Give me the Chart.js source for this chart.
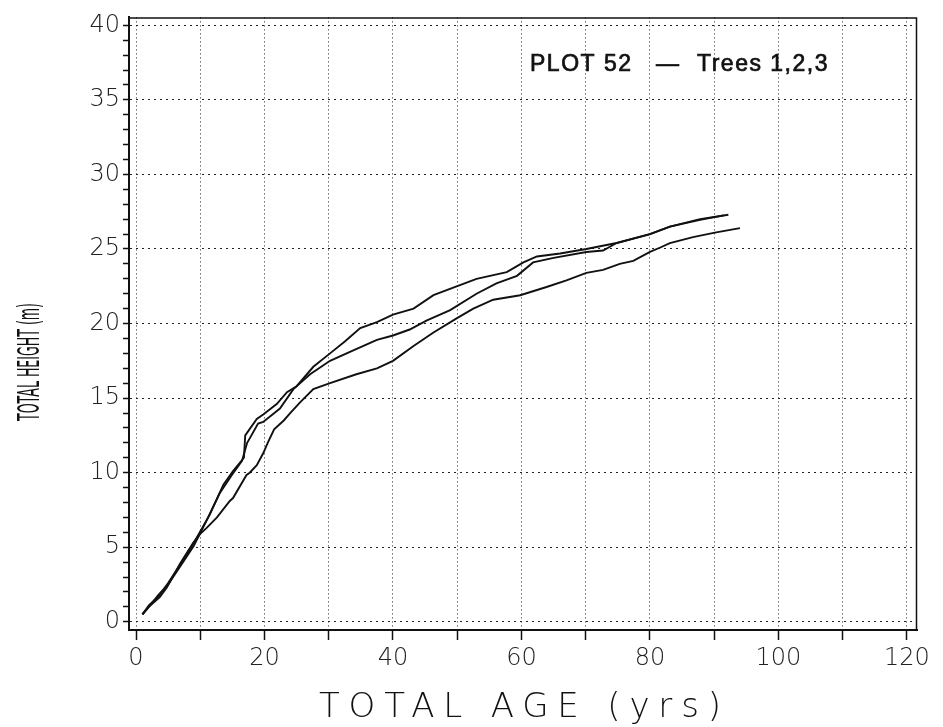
<!DOCTYPE html>
<html>
<head>
<meta charset="utf-8">
<title>PLOT 52 - Trees 1,2,3</title>
<script src="https://cdn.jsdelivr.net/npm/chart.js@4.4.1/dist/chart.umd.min.js"></script>
<style>
  html, body { margin: 0; padding: 0; background: #fff; }
  #wrap { width: 943px; height: 727px; }
</style>
</head>
<body>
<div id="wrap"><canvas id="heightChart" width="943" height="727"></canvas></div>
<script>
// Tree 1 (upper curve after ~27 yrs)
const tree1Age = [1, 2, 3.5, 5, 7, 9, 11.5, 13.6, 15.1, 16.8, 17.0, 18.8, 19.8, 21.9, 23.5, 25, 27.6, 30.2, 32.5, 34.9, 37.5, 40, 43.2, 46.3, 49.9, 53, 57.7, 60.3, 62.4, 66, 70.1, 74.8, 80, 83.1, 87.8, 92.2];
const tree1Height = [0.5, 1.1, 1.7, 2.6, 3.9, 5.3, 7.2, 9.2, 10.1, 11.0, 12.5, 13.6, 13.9, 14.6, 15.4, 15.8, 17.1, 18.0, 18.8, 19.7, 20.1, 20.6, 21.0, 21.9, 22.5, 23.0, 23.45, 24.1, 24.5, 24.7, 25.0, 25.4, 26.0, 26.5, 27.0, 27.3];

// Tree 2 (middle curve)
const tree2Age = [1, 2, 3.5, 5, 7, 9, 11, 13, 15, 16.5, 17.3, 17.7, 19.0, 19.8, 22.4, 24.5, 27.1, 30.2, 33.3, 37.5, 40, 42.6, 45.2, 48.9, 53, 56.1, 59.3, 61.8, 65, 70.1, 72.7, 74.8, 80, 83.1, 87.8, 91.5];
const tree2Height = [0.5, 1.0, 1.8, 2.5, 3.8, 5.1, 6.8, 8.6, 9.9, 10.8, 12.0, 12.3, 13.3, 13.4, 14.3, 15.6, 16.6, 17.5, 18.1, 18.9, 19.2, 19.6, 20.2, 20.9, 22.0, 22.7, 23.2, 24.1, 24.4, 24.8, 24.9, 25.4, 26.0, 26.5, 26.95, 27.25];

// Tree 3 (lowest curve)
const tree3Age = [1, 2, 3.7, 4.8, 6.85, 8.9, 10, 11, 12.6, 14.6, 15.1, 17.2, 17.7, 18.8, 19.8, 20.5, 21.5, 23, 24, 25.5, 27.6, 30.2, 34.3, 37.5, 40, 43.2, 46.3, 49.9, 52.5, 55.6, 59.8, 63.9, 67, 70.1, 72.7, 75.3, 77.4, 80, 81.6, 83.1, 86.7, 90.1, 94];
const tree3Height = [0.5, 1.0, 1.65, 2.3, 3.9, 5.3, 5.9, 6.3, 7.0, 8.1, 8.3, 9.85, 10.0, 10.5, 11.3, 12.0, 12.9, 13.5, 14.0, 14.7, 15.6, 16.0, 16.6, 17.0, 17.5, 18.5, 19.4, 20.35, 21.0, 21.6, 21.9, 22.45, 22.9, 23.4, 23.6, 24.0, 24.2, 24.8, 25.1, 25.4, 25.8, 26.1, 26.4];

// axis ticks
const ageTicks = [0, 10, 20, 30, 40, 50, 60, 70, 80, 90, 100, 110, 120];
const heightTicks = [0, 1, 2, 3, 4, 5, 6, 7, 8, 9, 10, 11, 12, 13, 14, 15, 16, 17, 18, 19, 20,
  21, 22, 23, 24, 25, 26, 27, 28, 29, 30, 31, 32, 33, 34, 35, 36, 37, 38, 39, 40];

const toPoints = (ages, heights) => ages.map((a, i) => ({ x: a, y: heights[i] }));

const lineStyle = {
  borderColor: "#111",
  borderWidth: 1.9,
  pointRadius: 0,
  tension: 0,
  fill: false,
};

const tickFont = { family: "DejaVu Sans", size: 24, weight: 200 };

// frame + free text (plot label, axis titles)
const decorPlugin = {
  id: "decor",
  afterDatasetsDraw(chart) {
    const { ctx, chartArea: a } = chart;
    ctx.save();
    ctx.strokeStyle = "#111";
    ctx.lineWidth = 1.5;
    ctx.beginPath();
    ctx.moveTo(a.left, a.top + 0.5);
    ctx.lineTo(a.right - 0.5, a.top + 0.5);
    ctx.lineTo(a.right - 0.5, a.bottom);
    ctx.stroke();

    // plot label
    ctx.fillStyle = "#111";
    ctx.strokeStyle = "#111";
    ctx.lineWidth = 0.7;
    ctx.textBaseline = "alphabetic";
    ctx.font = "23px 'Liberation Sans'";
    ctx.letterSpacing = "1.5px";
    ctx.textAlign = "left";
    [["PLOT 52", 530], ["—", 656], ["Trees 1,2,3", 697]].forEach(([t, x]) => {
      ctx.fillText(t, x, 71);
      ctx.strokeText(t, x, 71);
    });

    // x axis title, spread out
    ctx.font = "200 34px 'DejaVu Sans'";
    const xTitle = "TOTAL AGE (yrs)";
    ctx.letterSpacing = "0px";
    const w0 = ctx.measureText(xTitle).width;
    const spacing = Math.max(0, (402 - w0) / (xTitle.length - 1));
    ctx.letterSpacing = spacing + "px";
    ctx.textBaseline = "middle";
    ctx.fillText(xTitle, 319, 708);

    // y axis title, condensed
    ctx.letterSpacing = "0px";
    ctx.font = "30px 'DejaVu Sans'";
    const yTitle = "TOTAL HEIGHT (m)";
    const wy = ctx.measureText(yTitle).width;
    ctx.translate(31, 362);
    ctx.rotate(-Math.PI / 2);
    ctx.scale(118 / wy, 1);
    ctx.textAlign = "center";
    ctx.fillText(yTitle, 0, 0);
    ctx.restore();
  },
};

new Chart(document.getElementById("heightChart"), {
  type: "line",
  data: {
    datasets: [
      { label: "Tree 1", data: toPoints(tree1Age, tree1Height), ...lineStyle },
      { label: "Tree 2", data: toPoints(tree2Age, tree2Height), ...lineStyle },
      { label: "Tree 3", data: toPoints(tree3Age, tree3Height), ...lineStyle },
    ],
  },
  options: {
    responsive: false,
    animation: false,
    layout: { padding: { top: 11, right: 26, left: 0, bottom: 0 } },
    plugins: {
      legend: { display: false },
      title: { display: false },
      tooltip: { enabled: false },
    },
    scales: {
      x: {
        type: "linear",
        min: -1.09,
        max: 121.56,
        afterBuildTicks: (axis) => {
          axis.ticks = ageTicks.map((v) => ({ value: v }));
        },
        afterFit: (axis) => {
          axis.height = 97;
        },
        ticks: {
          autoSkip: false,
          maxRotation: 0,
          padding: 4,
          color: "#222",
          font: tickFont,
          callback: (v) => (v % 20 === 0 ? v : ""),
        },
        grid: {
          color: "#222",
          lineWidth: 1,
          tickLength: 10,
          tickColor: "#111",
          tickWidth: 1.5,
        },
        border: { display: true, color: "#111", width: 2, dash: [1, 3] },
      },
      y: {
        type: "linear",
        min: -0.55,
        max: 40.53,
        afterBuildTicks: (axis) => {
          axis.ticks = heightTicks.map((v) => ({ value: v }));
        },
        afterFit: (axis) => {
          axis.width = 129;
        },
        ticks: {
          autoSkip: false,
          padding: 3,
          color: "#222",
          font: tickFont,
          callback: (v) => (v % 5 === 0 ? v : ""),
        },
        grid: {
          color: (c) => (c.tick && c.tick.value % 5 === 0 ? "#222" : "rgba(0,0,0,0)"),
          lineWidth: 1,
          tickLength: 6,
          tickColor: "#111",
          tickWidth: 1.5,
        },
        border: { display: true, color: "#111", width: 2, dash: [2, 4] },
      },
    },
  },
  plugins: [decorPlugin],
});
</script>
</body>
</html>
